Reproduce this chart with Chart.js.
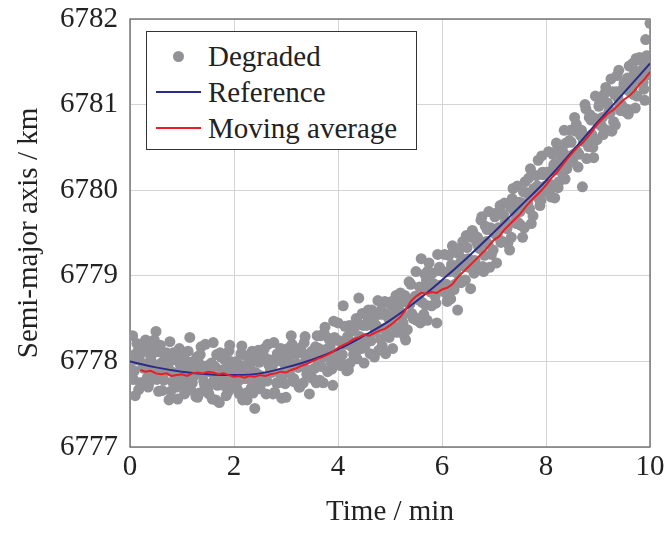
<!DOCTYPE html>
<html>
<head>
<meta charset="utf-8">
<script src="https://cdn.jsdelivr.net/npm/chart.js@4"></script>
<style>
  html, body { margin: 0; padding: 0; background: #ffffff; }
  #wrap { position: relative; width: 664px; height: 534px; }
  #legend {
    position: absolute; left: 146px; top: 31px; width: 271px; height: 119px;
    border: 1px solid #333; background: #fff; box-sizing: border-box;
    font-family: "Liberation Serif", serif; font-size: 29px; color: #222;
  }
  .item { position: absolute; left: 0; height: 36px; width: 100%; }
  .item span { position: absolute; left: 61px; top: 0; line-height: 36px; }
  .dot { position: absolute; left: 26px; top: 13px; width: 11px; height: 11px; border-radius: 50%; background: #919196; }
  .ln { position: absolute; left: 9px; top: 17px; width: 45px; height: 2px; }
</style>
</head>
<body>
<div id="wrap">
  <canvas id="orbitChart" width="664" height="534"></canvas>
  <div id="legend">
    <div class="item" style="top:6px"><div class="dot"></div><span>Degraded</span></div>
    <div class="item" style="top:42px"><div class="ln" style="background:#2b2b8c"></div><span>Reference</span></div>
    <div class="item" style="top:78px"><div class="ln" style="background:#ee1c25"></div><span>Moving average</span></div>
  </div>
</div>
<script>
// ── Data ─────────────────────────────────────────────────────
const xTicks = [0, 2, 4, 6, 8, 10];
const yTicks = [6777, 6778, 6779, 6780, 6781, 6782];

// degraded samples: three interleaved passes, one sample every 0.05 min each
const degradedStep = 0.05;
const degradedStarts = [0, 0.017, 0.033];
const degradedA = [
    6777.92, 6778.30, 6777.60, 6778.12, 6777.75, 6777.95, 6778.25, 6777.70, 6778.05, 6777.85,
    6778.35, 6777.65, 6777.98, 6777.78, 6778.10, 6777.55, 6777.88, 6778.02, 6777.70, 6778.15,
    6777.80, 6777.62, 6778.00, 6778.28, 6777.75, 6777.92, 6777.58, 6778.08, 6777.85, 6778.20,
    6777.68, 6777.95, 6778.22, 6777.55, 6777.82, 6778.05, 6777.72, 6777.60, 6778.12, 6777.88,
    6777.70, 6778.00, 6777.62, 6778.18, 6777.80, 6777.55, 6777.95, 6778.12, 6777.45, 6777.85,
    6777.68, 6778.05, 6777.78, 6778.20, 6777.90, 6777.62, 6778.00, 6777.75, 6778.15, 6777.85,
    6777.58, 6778.05, 6778.30, 6777.80, 6778.10, 6777.70, 6777.95, 6778.22, 6777.85, 6777.62,
    6778.12, 6777.92, 6778.30, 6777.78, 6778.05, 6778.40, 6777.88, 6778.18, 6777.72, 6778.02,
    6778.45, 6777.95, 6778.65, 6778.20, 6777.90, 6778.35, 6778.08, 6778.50, 6778.74, 6778.15,
    6777.98, 6778.42, 6778.25, 6778.60, 6778.05, 6778.38, 6778.55, 6778.18, 6778.70, 6778.32,
    6778.48, 6778.15, 6778.62, 6778.35, 6778.80, 6778.45, 6778.25, 6778.68, 6778.90, 6778.50,
    6779.05, 6778.72, 6779.20, 6778.55, 6778.95, 6779.15, 6778.65, 6778.88, 6778.45, 6779.10,
    6778.85, 6779.25, 6778.70, 6779.05, 6779.35, 6778.90, 6778.60, 6779.15, 6779.40, 6778.95,
    6779.20, 6778.85, 6779.50, 6779.10, 6779.35, 6779.65, 6779.05, 6779.40, 6779.75, 6779.25,
    6779.50, 6779.15, 6779.72, 6779.40, 6779.85, 6779.55, 6779.30, 6779.90, 6779.62, 6780.05,
    6779.75, 6779.45, 6780.10, 6779.85, 6780.25, 6779.70, 6780.00, 6780.35, 6779.88, 6780.18,
    6780.05, 6780.45, 6779.92, 6780.30, 6780.55, 6780.10, 6780.40, 6780.70, 6780.25, 6780.58,
    6780.38, 6780.85, 6780.45, 6780.70, 6780.04, 6781.00, 6780.60, 6780.88, 6780.50, 6781.10,
    6780.78, 6781.05, 6780.65, 6781.20, 6780.90, 6781.30, 6780.80, 6781.15, 6781.40, 6781.00,
    6781.25, 6780.95, 6781.45, 6781.20, 6781.38, 6781.10, 6781.55, 6781.30, 6781.05, 6781.50,
    6781.95
];
const degradedB = [
    6778.07, 6777.79, 6778.02, 6777.67, 6778.19, 6777.92, 6778.12, 6777.75, 6777.99, 6778.25,
    6777.79, 6778.11, 6777.66, 6777.99, 6777.89, 6778.23, 6777.76, 6778.03, 6777.56, 6777.96,
    6778.05, 6777.79, 6778.12, 6777.67, 6777.87, 6777.59, 6777.99, 6778.17, 6777.77, 6777.71,
    6777.62, 6777.98, 6777.78, 6778.08, 6777.52, 6777.90, 6778.02, 6777.72, 6778.19, 6777.80,
    6777.95, 6777.67, 6777.90, 6777.55, 6778.07, 6777.80, 6778.00, 6777.63, 6777.87, 6778.13,
    6777.74, 6778.07, 6777.62, 6777.96, 6777.87, 6778.22, 6777.75, 6778.03, 6777.57, 6777.97,
    6778.11, 6777.86, 6778.20, 6777.76, 6777.97, 6777.70, 6778.10, 6778.29, 6777.90, 6777.85,
    6777.80, 6778.17, 6777.99, 6778.30, 6777.75, 6778.14, 6778.27, 6777.99, 6778.47, 6778.09,
    6778.24, 6777.98, 6778.22, 6777.89, 6778.42, 6778.17, 6778.39, 6778.03, 6778.29, 6778.56,
    6778.18, 6778.52, 6778.09, 6778.43, 6778.35, 6778.71, 6778.26, 6778.55, 6778.09, 6778.51,
    6778.66, 6778.42, 6778.77, 6778.35, 6778.57, 6778.31, 6778.73, 6778.93, 6778.56, 6778.52,
    6778.48, 6778.87, 6778.69, 6779.02, 6778.48, 6778.89, 6779.03, 6778.76, 6779.25, 6778.89,
    6779.05, 6778.80, 6779.05, 6778.73, 6779.28, 6779.04, 6779.26, 6778.92, 6779.19, 6779.47,
    6779.10, 6779.45, 6779.03, 6779.39, 6779.32, 6779.69, 6779.24, 6779.54, 6779.10, 6779.53,
    6779.69, 6779.46, 6779.82, 6779.40, 6779.63, 6779.38, 6779.81, 6780.02, 6779.65, 6779.62,
    6779.59, 6779.98, 6779.81, 6780.14, 6779.61, 6780.02, 6780.17, 6779.90, 6780.40, 6780.04,
    6780.21, 6779.97, 6780.23, 6779.91, 6780.47, 6780.23, 6780.46, 6780.13, 6780.40, 6780.70,
    6780.33, 6780.69, 6780.27, 6780.64, 6780.57, 6780.95, 6780.51, 6780.82, 6780.38, 6780.82,
    6780.98, 6780.75, 6781.12, 6780.70, 6780.94, 6780.69, 6781.12, 6781.34, 6780.97, 6780.95,
    6780.92, 6781.31, 6781.15, 6781.48, 6780.96, 6781.37, 6781.52, 6781.26, 6781.76, 6781.41
];
const degradedC = [
    6777.84, 6777.89, 6778.21, 6778.07, 6777.75, 6777.97, 6777.81, 6778.17, 6777.91, 6778.11,
    6777.88, 6778.19, 6777.81, 6778.05, 6777.96, 6777.65, 6778.10, 6777.86, 6778.02, 6777.73,
    6778.09, 6777.89, 6777.69, 6777.99, 6777.83, 6778.05, 6777.63, 6777.91, 6777.73, 6777.95,
    6777.88, 6777.56, 6777.94, 6777.72, 6778.10, 6777.82, 6777.90, 6777.64, 6778.00, 6777.74,
    6777.72, 6777.77, 6778.09, 6777.95, 6777.63, 6777.85, 6777.69, 6778.05, 6777.79, 6777.99,
    6777.83, 6778.15, 6777.77, 6778.02, 6777.94, 6777.64, 6778.09, 6777.86, 6778.03, 6777.74,
    6778.15, 6777.96, 6777.77, 6778.08, 6777.93, 6778.16, 6777.75, 6778.03, 6777.86, 6778.09,
    6778.06, 6777.75, 6778.15, 6777.94, 6778.33, 6778.06, 6778.15, 6777.91, 6778.28, 6778.03,
    6778.01, 6778.08, 6778.41, 6778.29, 6777.98, 6778.22, 6778.08, 6778.45, 6778.21, 6778.42,
    6778.27, 6778.60, 6778.24, 6778.49, 6778.42, 6778.13, 6778.60, 6778.38, 6778.55, 6778.28,
    6778.70, 6778.52, 6778.34, 6778.67, 6778.53, 6778.77, 6778.37, 6778.67, 6778.52, 6778.76,
    6778.74, 6778.45, 6778.85, 6778.66, 6779.06, 6778.81, 6778.91, 6778.68, 6779.06, 6778.83,
    6778.82, 6778.90, 6779.24, 6779.13, 6778.84, 6779.09, 6778.95, 6779.34, 6779.11, 6779.33,
    6779.19, 6779.53, 6779.18, 6779.45, 6779.39, 6779.11, 6779.58, 6779.37, 6779.56, 6779.30,
    6779.73, 6779.56, 6779.39, 6779.72, 6779.59, 6779.84, 6779.45, 6779.76, 6779.61, 6779.86,
    6779.85, 6779.56, 6779.97, 6779.78, 6780.19, 6779.94, 6780.05, 6779.82, 6780.21, 6779.98,
    6779.98, 6780.07, 6780.42, 6780.31, 6780.03, 6780.28, 6780.15, 6780.55, 6780.32, 6780.56,
    6780.42, 6780.77, 6780.42, 6780.70, 6780.64, 6780.37, 6780.85, 6780.65, 6780.84, 6780.59,
    6781.02, 6780.85, 6780.69, 6781.02, 6780.90, 6781.15, 6780.76, 6781.08, 6780.93, 6781.19,
    6781.18, 6780.89, 6781.31, 6781.12, 6781.54, 6781.29, 6781.40, 6781.18, 6781.57, 6781.35
];

const referenceTime = [0, 0.5, 1, 1.5, 2, 2.5, 3, 3.5, 4, 4.5, 5, 5.5, 6, 6.5, 7, 7.5, 8, 8.5, 9, 9.5, 10];
const referenceValues = [
    6778.00, 6777.93, 6777.88, 6777.85, 6777.84, 6777.86, 6777.93, 6778.02, 6778.14, 6778.30,
    6778.48, 6778.70, 6778.95, 6779.22, 6779.51, 6779.81, 6780.11, 6780.45, 6780.80, 6781.14,
    6781.48
];

// moving average, one value every 0.1 min from t = 0.2
const movingStart = 0.2;
const movingStep = 0.1;
const movingValues = [
    6777.90, 6777.88, 6777.89, 6777.86, 6777.85, 6777.86, 6777.83, 6777.84, 6777.85, 6777.83,
    6777.86, 6777.87, 6777.86, 6777.88, 6777.87, 6777.85, 6777.86, 6777.84, 6777.82, 6777.83,
    6777.81, 6777.83, 6777.82, 6777.84, 6777.83, 6777.85, 6777.86, 6777.88, 6777.87, 6777.90,
    6777.92, 6777.95, 6777.97, 6778.00, 6778.03, 6778.05, 6778.08, 6778.11, 6778.16, 6778.19,
    6778.22, 6778.26, 6778.28, 6778.31, 6778.30, 6778.33, 6778.36, 6778.38, 6778.42, 6778.47,
    6778.52, 6778.60, 6778.70, 6778.76, 6778.80, 6778.79, 6778.81, 6778.80, 6778.84, 6778.86,
    6778.90, 6778.98, 6779.04, 6779.10, 6779.16, 6779.22, 6779.28, 6779.35, 6779.42, 6779.46,
    6779.54, 6779.60, 6779.66, 6779.72, 6779.80, 6779.87, 6779.93, 6779.99, 6780.06, 6780.14,
    6780.20, 6780.28, 6780.36, 6780.43, 6780.50, 6780.55, 6780.62, 6780.70, 6780.78, 6780.84,
    6780.90, 6780.94, 6781.00, 6781.06, 6781.10, 6781.16, 6781.24, 6781.30, 6781.38
];

const FONT = '"Liberation Serif", serif';

const degradedPoints = [];
[degradedA, degradedB, degradedC].forEach((arr, k) => {
    arr.forEach((v, i) => degradedPoints.push({ x: degradedStarts[k] + i * degradedStep, y: v }));
});

// ── Plot frame (all four sides, drawn under the marks) ───────
const framePlugin = {
    id: 'frame',
    beforeDatasetsDraw(chart) {
        const { ctx, chartArea: a } = chart;
        ctx.save();
        ctx.strokeStyle = '#5a5a5a';
        ctx.lineWidth = 1.2;
        ctx.strokeRect(a.left, a.top, a.right - a.left, a.bottom - a.top);
        ctx.restore();
    }
};

new Chart(document.getElementById('orbitChart').getContext('2d'), {
    type: 'scatter',
    data: {
        datasets: [{
            label: 'Degraded',
            data: degradedPoints,
            backgroundColor: '#939397',
            borderWidth: 0,
            pointRadius: 5.5,
            order: 3
        },
        {
            label: 'Reference',
            data: referenceValues.map((v, i) => ({ x: referenceTime[i], y: v })),
            showLine: true,
            borderColor: '#2b2b8c',
            borderWidth: 2,
            pointRadius: 0,
            tension: 0.4,
            order: 2
        },
        {
            label: 'Moving average',
            data: movingValues.map((v, i) => ({ x: movingStart + i * movingStep, y: v })),
            showLine: true,
            borderColor: '#ee1c25',
            borderWidth: 2,
            pointRadius: 0,
            tension: 0,
            order: 1
        }]
    },
    options: {
        responsive: false,
        animation: false,
        layout: { padding: { top: 19, right: 14, bottom: 0, left: 0 } },
        plugins: {
            legend: { display: false },
            tooltip: { enabled: false }
        },
        scales: {
            x: {
                type: 'linear',
                min: 0,
                max: 10,
                afterBuildTicks: s => { s.ticks = xTicks.map(v => ({ value: v })); },
                afterFit: s => { s.height = 87; s.paddingLeft = 0; s.paddingRight = 0; },
                grid: { color: '#d4d4d4', drawTicks: false, tickLength: 0 },
                border: { display: false },
                ticks: { color: '#222', padding: 3, maxRotation: 0, font: { family: FONT, size: 29 } },
                title: {
                    display: true,
                    text: 'Time / min',
                    color: '#222',
                    padding: { top: 0, bottom: 4 },
                    font: { family: FONT, size: 29 }
                }
            },
            y: {
                type: 'linear',
                min: 6777,
                max: 6782,
                afterBuildTicks: s => { s.ticks = yTicks.map(v => ({ value: v })); },
                afterFit: s => { s.width = 130; s.paddingTop = 0; s.paddingBottom = 0; },
                grid: { color: '#d4d4d4', drawTicks: false, tickLength: 0 },
                border: { display: false },
                ticks: {
                    color: '#222',
                    padding: 12,
                    font: { family: FONT, size: 29 },
                    callback: v => String(v)
                },
                title: {
                    display: true,
                    text: 'Semi-major axis / km',
                    color: '#222',
                    padding: { top: 12, bottom: 0 },
                    font: { family: FONT, size: 29 }
                }
            }
        }
    },
    plugins: [framePlugin]
});
</script>
</body>
</html>
